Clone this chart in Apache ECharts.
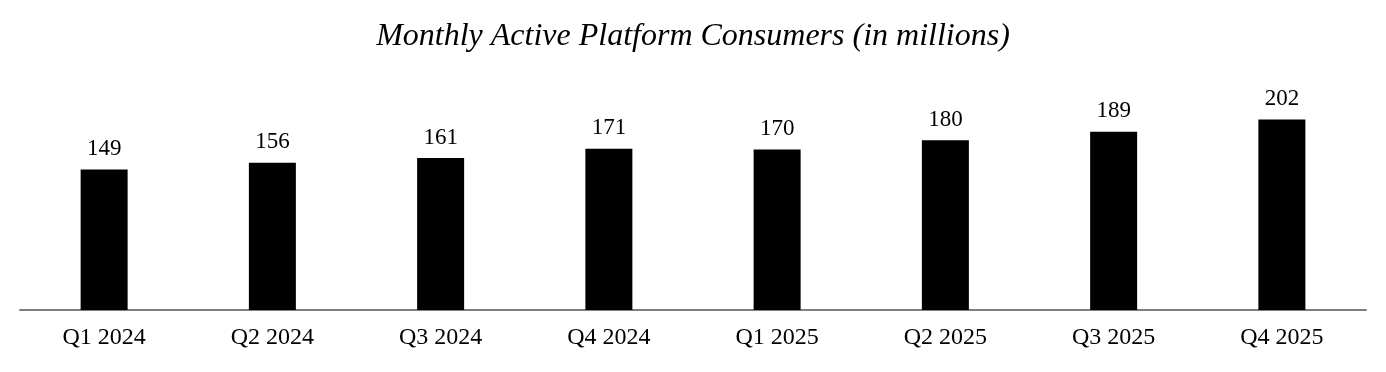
<!DOCTYPE html>
<html>
<head>
<meta charset="utf-8">
<script src="https://cdn.jsdelivr.net/npm/echarts@6/dist/echarts.min.js"></script>
<style>html,body{margin:0;padding:0;background:#fff}#c{width:1386px;height:372px}</style>
</head>
<body>
<div id="c"></div>
<script>
const categories = ['Q1 2024','Q2 2024','Q3 2024','Q4 2024','Q1 2025','Q2 2025','Q3 2025','Q4 2025'];
const consumers = [149,156,161,171,170,180,189,202];
const titleText = 'Monthly Active Platform Consumers (in millions)';

const chart = echarts.init(document.getElementById('c'), null, {renderer:'canvas'});
chart.setOption({
  animation:false,
  backgroundColor:'#ffffff',
  title:{
    text:titleText,
    left:'center', top:16,
    textStyle:{fontFamily:'Liberation Serif', fontStyle:'italic', fontWeight:'normal', fontSize:32, color:'#000'}
  },
  grid:{left:20,right:20,top:60,bottom:62},
  xAxis:{
    type:'category', data:categories,
    axisLine:{lineStyle:{color:'#7f7f7f', width:2}},
    axisTick:{show:false},
    axisLabel:{fontFamily:'Liberation Serif', fontSize:24, color:'#000', margin:16}
  },
  yAxis:{type:'value', min:0, max:265, show:false, splitLine:{show:false}},
  series:[{
    type:'bar', data:consumers, barWidth:47,
    itemStyle:{color:'#000'},
    label:{show:true, position:'top', distance:9, fontFamily:'Liberation Serif', fontSize:23, color:'#000'}
  }]
});
</script>
</body>
</html>
